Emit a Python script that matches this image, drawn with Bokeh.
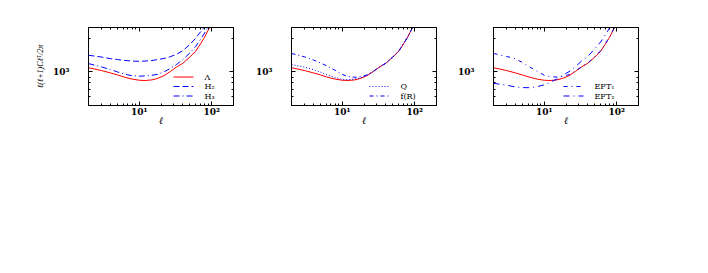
from bokeh.plotting import figure
from bokeh.models import (FixedTicker, LogAxis, Label, Title, Range1d, LinearScale)
from bokeh.layouts import row
from bokeh.embed import file_html
from bokeh.resources import INLINE

# ---- data ----
ell = [2, 3, 4, 5, 6, 7, 8, 10, 12, 15, 18, 22, 27, 33, 40, 50, 60, 70, 80, 90, 100, 120]
lcdm = [1090, 1030, 980, 940, 905, 880, 862, 842, 837, 848, 875, 925, 1010, 1110, 1195, 1360, 1530, 1780, 2050, 2380, 2700, 3400]
h2 = [1410, 1360, 1315, 1290, 1272, 1260, 1250, 1245, 1250, 1265, 1290, 1320, 1370, 1440, 1550, 1760, 2000, 2280, 2540, 2850, 3200, 3900]
h3 = [1187, 1110, 1050, 1000, 965, 940, 925, 915, 920, 932, 952, 1000, 1075, 1170, 1290, 1480, 1690, 1950, 2230, 2560, 2900, 3600]
quint = [1162, 1104, 1048, 995, 950, 915, 890, 857, 852, 865, 885, 930, 1012, 1110, 1195, 1360, 1530, 1780, 2050, 2380, 2700, 3400]
fofr = [1463, 1365, 1280, 1205, 1140, 1080, 1035, 950, 910, 895, 905, 940, 1015, 1112, 1197, 1362, 1532, 1782, 2052, 2382, 2702, 3402]
eft1 = [1463, 1380, 1310, 1215, 1130, 1065, 1015, 935, 905, 900, 915, 945, 1020, 1115, 1205, 1370, 1545, 1795, 2065, 2395, 2715, 3420]
eft2 = [791, 760, 735, 724, 722, 728, 738, 765, 805, 865, 930, 1005, 1115, 1255, 1380, 1610, 1850, 2160, 2480, 2800, 3150, 3800]

x_major = [10, 100]
x_minor = [2, 3, 4, 5, 6, 7, 8, 9, 20, 30, 40, 50, 60, 70, 80, 90, 200]
y_major = [1000]
y_minor = [500, 600, 700, 800, 900, 2000]
x_labels = {10: "10¹", 100: "10²"}
y_labels = {1000: "10³"}
y_title = "ℓ(ℓ+1)Cℓᵀ/2π"

SERIF = "DejaVu Serif"
RED = "#ff0000"
BLUE = "#0000ff"
FRAME_W, FRAME_H = 145, 78


def style_axis(ax, show_labels, overrides, standoff):
    ax.major_tick_in = 4
    ax.major_tick_out = 0
    ax.minor_tick_in = 2
    ax.minor_tick_out = 0
    ax.axis_line_color = "black"
    ax.major_tick_line_color = "black"
    ax.minor_tick_line_color = "black"
    ax.major_label_overrides = overrides
    ax.major_label_standoff = standoff
    if show_labels:
        ax.major_label_text_font = SERIF
        ax.major_label_text_font_style = "bold"
        ax.major_label_text_font_size = "9px"
        ax.major_label_text_color = "black"
    else:
        ax.major_label_text_font_size = "0px"
        ax.major_label_text_color = None


def make_panel(left, right):
    p = figure(x_axis_type="log", y_axis_type="log",
               x_range=(2, 200), y_range=(500, 2500),
               frame_width=FRAME_W, frame_height=FRAME_H,
               min_border_left=left, min_border_right=right,
               min_border_top=27, min_border_bottom=30,
               output_backend="svg", toolbar_location=None)
    p.xgrid.visible = False
    p.ygrid.visible = False
    p.outline_line_color = "black"
    p.background_fill_color = "white"
    p.border_fill_color = "white"

    # pixel-like frame coordinates used only to place the key
    p.extra_x_ranges = {"px": Range1d(0, FRAME_W)}
    p.extra_y_ranges = {"px": Range1d(0, FRAME_H)}
    p.extra_x_scales = {"px": LinearScale()}
    p.extra_y_scales = {"px": LinearScale()}

    p.xaxis.ticker = FixedTicker(ticks=x_major, minor_ticks=x_minor)
    p.yaxis.ticker = FixedTicker(ticks=y_major, minor_ticks=y_minor)
    style_axis(p.xaxis[0], True, x_labels, 1)
    style_axis(p.yaxis[0], True, y_labels, 19)

    p.xaxis.axis_label = "ℓ"
    p.xaxis.axis_label_text_font = SERIF
    p.xaxis.axis_label_text_font_style = "italic"
    p.xaxis.axis_label_text_font_size = "10px"
    p.xaxis.axis_label_text_color = "black"
    p.xaxis.axis_label_standoff = -5

    ra = LogAxis(ticker=FixedTicker(ticks=y_major, minor_ticks=y_minor))
    style_axis(ra, False, {}, 0)
    p.add_layout(ra, "right")
    ta = LogAxis(ticker=FixedTicker(ticks=x_major, minor_ticks=x_minor))
    style_axis(ta, False, {}, 0)
    p.add_layout(ta, "above")
    return p


def add_key(p, entries, x0, y_top, row_h=9.5):
    # entries: list of (label, color, dash)
    for i, (lab, col, dash) in enumerate(entries):
        yy = y_top - i * row_h
        p.line([x0, x0 + 20], [yy, yy], x_range_name="px", y_range_name="px",
               line_color=col, line_width=1, line_dash=dash)
        p.add_layout(Label(x=x0 + 31, y=yy, x_range_name="px", y_range_name="px",
                           text=lab, text_font=SERIF, text_font_size="8px",
                           text_color="black", text_baseline="middle",
                           text_align="left"))


# ---- panel 1 ----
p1 = make_panel(88, 10)
p1.line(ell, lcdm, line_color=RED, line_width=1)
p1.line(ell, h2, line_color=BLUE, line_width=1, line_dash="6 3")
p1.line(ell, h3, line_color=BLUE, line_width=1, line_dash="6 3 1 3")
add_key(p1, [("Λ", RED, "solid"), ("H₂", BLUE, "6 3"), ("H₃", BLUE, "6 3 1 3")], 85, 28.5)
p1.add_layout(Title(text=y_title, align="center", text_font="Liberation Serif",
                    text_font_style="italic", text_font_size="8px",
                    text_color="black", standoff=12), "left")

# ---- panel 2 ----
p2 = make_panel(48, 10)
p2.line(ell, lcdm, line_color=RED, line_width=1)
p2.line(ell, quint, line_color=BLUE, line_width=1, line_dash="1 2")
p2.line(ell, fofr, line_color=BLUE, line_width=1, line_dash="4 3 1 3")
add_key(p2, [("Q", BLUE, "1 2"), ("f(R)", BLUE, "4 3 1 3")], 78, 19)

# ---- panel 3 ----
p3 = make_panel(47, 10)
p3.line(ell, lcdm, line_color=RED, line_width=1)
p3.line(ell, eft1, line_color=BLUE, line_width=1, line_dash="4 4 1 4")
p3.line(ell, eft2, line_color=BLUE, line_width=1, line_dash="6 4 1 4")
add_key(p3, [("EFT₁", BLUE, "4 4 1 4"), ("EFT₂", BLUE, "6 4 1 4")], 70, 19)

layout = row(p1, p2, p3)
open("out.html", "w").write(file_html(layout, INLINE))
